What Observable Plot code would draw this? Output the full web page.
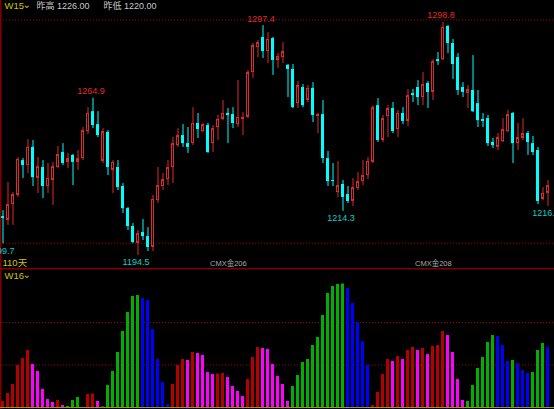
<!DOCTYPE html>
<html>
<head>
<meta charset="utf-8">
<script src="https://cdn.jsdelivr.net/npm/d3@7"></script>
<script src="https://cdn.jsdelivr.net/npm/@observablehq/plot@0.6"></script>
<style>
  html, body { margin: 0; padding: 0; background: #000; }
  #chart { width: 554px; height: 409px; overflow: hidden; background: #000; }
  #chart svg { display: block; }
</style>
</head>
<body>
<div id="chart"></div>
<script>
// Daily OHLC for the last 110 sessions (COMEX gold continuous, W15 window)
const open = [
  1211.9, 1210.2, 1217.3, 1221.4, 1237.0, 1234.8, 1242.9, 1229.0, 1233.9, 1225.4,
  1228.1, 1233.9, 1240.6, 1236.2, 1239.3, 1236.2, 1237.9, 1250.0, 1258.9, 1253.1,
  1236.6, 1249.6, 1232.6, 1233.9, 1225.4, 1215.5, 1207.5, 1199.9, 1204.8, 1203.0,
  1198.1, 1219.1, 1225.4, 1228.5, 1233.9, 1243.7, 1248.2, 1244.6, 1244.6, 1253.6,
  1250.0, 1252.7, 1244.6, 1251.8, 1255.4, 1258.1, 1257.6, 1253.1, 1255.4, 1256.3,
  1276.4, 1287.6, 1292.1, 1285.8, 1291.6, 1281.8, 1283.1, 1279.6, 1277.8, 1262.5,
  1269.7, 1263.9, 1269.3, 1256.7, 1257.6, 1237.9, 1228.1, 1222.7, 1226.3, 1221.8,
  1218.7, 1224.5, 1227.6, 1230.3, 1236.2, 1261.6, 1246.0, 1256.7, 1260.3, 1250.9,
  1258.1, 1254.5, 1267.0, 1269.7, 1265.2, 1271.5, 1267.5, 1282.2, 1282.2, 1297.0,
  1289.4, 1283.1, 1269.7, 1267.0, 1268.4, 1262.5, 1255.4, 1255.8, 1245.1, 1242.9,
  1245.5, 1250.0, 1258.1, 1244.6, 1246.9, 1249.1, 1244.6, 1241.5, 1219.6, 1222.3
];
const high = [
  1214.6, 1227.2, 1222.7, 1238.4, 1237.9, 1246.4, 1246.0, 1238.4, 1237.0, 1235.7,
  1236.2, 1243.3, 1244.6, 1240.2, 1239.7, 1241.5, 1251.8, 1260.7, 1264.9, 1258.9,
  1251.3, 1250.4, 1237.0, 1237.0, 1226.7, 1216.0, 1208.8, 1205.7, 1210.6, 1207.0,
  1221.4, 1233.9, 1231.2, 1237.0, 1247.3, 1251.3, 1253.1, 1251.8, 1260.7, 1258.1,
  1253.6, 1253.6, 1252.7, 1257.2, 1263.9, 1260.3, 1260.7, 1272.8, 1258.5, 1277.3,
  1289.4, 1290.7, 1297.4, 1294.3, 1292.1, 1284.9, 1289.8, 1280.0, 1280.0, 1272.4,
  1271.0, 1270.6, 1271.9, 1258.1, 1263.9, 1241.1, 1235.7, 1236.6, 1228.1, 1225.4,
  1229.0, 1231.7, 1237.0, 1238.4, 1261.6, 1264.8, 1257.2, 1261.6, 1263.0, 1259.4,
  1260.7, 1268.8, 1268.8, 1272.8, 1276.4, 1272.4, 1282.2, 1285.4, 1298.8, 1297.5,
  1291.2, 1284.9, 1271.9, 1270.6, 1284.0, 1268.4, 1258.1, 1257.2, 1246.9, 1249.1,
  1255.8, 1259.4, 1258.5, 1253.6, 1255.8, 1250.0, 1247.8, 1242.9, 1224.9, 1228.1
];
const low = [
  1199.7, 1208.0, 1208.0, 1220.5, 1229.0, 1231.2, 1225.4, 1222.3, 1220.0, 1222.3,
  1216.9, 1233.4, 1234.8, 1233.4, 1225.8, 1232.6, 1237.0, 1248.7, 1251.3, 1247.3,
  1235.7, 1230.3, 1222.3, 1223.6, 1213.3, 1205.7, 1199.9, 1194.5, 1201.2, 1196.3,
  1196.3, 1217.8, 1223.6, 1225.8, 1226.7, 1242.9, 1242.9, 1240.2, 1243.7, 1246.9,
  1249.6, 1240.2, 1240.6, 1246.0, 1254.9, 1244.6, 1251.3, 1251.8, 1248.2, 1255.8,
  1273.7, 1283.1, 1282.7, 1280.4, 1275.1, 1278.2, 1280.4, 1265.2, 1260.3, 1260.3,
  1260.7, 1263.0, 1254.0, 1249.1, 1235.7, 1225.4, 1225.4, 1220.5, 1214.3, 1217.8,
  1216.4, 1223.6, 1225.8, 1228.5, 1235.7, 1245.1, 1245.1, 1247.3, 1249.1, 1247.3,
  1253.1, 1252.2, 1263.0, 1261.6, 1261.6, 1260.3, 1263.9, 1279.6, 1281.8, 1284.9,
  1273.3, 1266.1, 1265.2, 1260.3, 1258.5, 1251.8, 1251.8, 1243.3, 1242.4, 1241.5,
  1245.1, 1249.6, 1235.7, 1241.5, 1246.0, 1239.3, 1239.3, 1217.3, 1219.1, 1216.5
];
const close = [
  1211.1, 1217.3, 1221.8, 1237.5, 1234.8, 1242.9, 1229.4, 1234.3, 1225.4, 1229.0,
  1234.3, 1239.7, 1235.7, 1237.9, 1236.2, 1237.9, 1250.4, 1258.1, 1252.7, 1248.2,
  1250.0, 1233.9, 1236.2, 1224.9, 1215.5, 1207.5, 1200.3, 1204.3, 1203.0, 1198.1,
  1219.6, 1225.8, 1228.5, 1233.9, 1244.6, 1248.2, 1244.6, 1242.9, 1253.6, 1250.9,
  1253.1, 1240.6, 1251.3, 1255.4, 1258.1, 1257.2, 1253.6, 1256.3, 1256.3, 1276.4,
  1288.5, 1289.8, 1285.8, 1291.2, 1281.8, 1283.6, 1285.8, 1277.8, 1260.7, 1270.6,
  1261.6, 1269.3, 1257.2, 1257.6, 1237.9, 1227.6, 1227.6, 1225.8, 1220.5, 1218.7,
  1224.9, 1227.6, 1230.3, 1236.6, 1260.7, 1246.0, 1255.8, 1260.3, 1250.0, 1258.1,
  1254.5, 1266.1, 1266.1, 1265.2, 1271.0, 1267.5, 1281.3, 1281.3, 1296.6, 1289.4,
  1280.0, 1268.4, 1267.5, 1268.8, 1258.9, 1254.9, 1254.5, 1244.6, 1243.7, 1247.3,
  1250.9, 1257.6, 1244.6, 1247.3, 1249.1, 1245.1, 1240.6, 1218.7, 1222.3, 1225.8
];

// W16 oscillator: positive side drawn red/magenta, negative side green/blue (bar height = magnitude)
const osc = [
     6,   14,   23,   42,   49,   57,   43,   36,   18,    8,
     5,    7,    2,   -1,   -7,  -10, -0.5,   13, 13.5,    6,
  -0.5,  -22,  -36,  -55,  -76,  -95, -111, -112, -109, -107,
   -78,  -48,  -25,   -3,   23,   42,   48,   47,   55,   54,
    52,   35,   33, 33.5,   34,   30,   21,   16,   11,   28,
    50,   60,   59,   58,   43,   31,   23,    6,  -21,  -32,
   -45,  -48,  -62,  -70,  -92, -114, -121, -123,-123.5, -119,
  -104,  -85,  -66,  -42,    2,   15,   33,   48,   46,   51,
    48,   57,   60,   57,   59,   53,   61,   62,   76,   72,
    55,   28,    7,   -6,  -22,  -39,  -50,  -65,  -72,  -71,
   -62,  -46,  -47,  -44,  -37,  -34,  -35,  -57,  -64,  -60
];
const oscGrid = [42.5, 85];

// Annotated swing points (session indices)
const peakIdx = [18, 52, 88];
const troughIdx = [0, 27, 68, 109];

// Contract roll markers
const rollIdx = [41, 82];
const rollNames = ["CMX金206", "CMX金208"];

const headerName = "W15";
const lowerName = "W16";
const prevHighLabel = "昨高 1226.00";
const prevLowLabel = "昨低 1220.00";
const dayCountLabel = "110天";
const priceGrid = [1200, 1300];

const RED = "#e02a2a";
const CYAN = "#00ffff";
const CYAN_TEXT = "#10cccc";
const YELLOW = "#cfc200";
const GRID = "#a00000";
const BORDER = "#800000";
const FONT = "Liberation Sans, 'Noto Sans CJK SC', sans-serif";

const N = open.length;
const bars = open.map((o, i) => ({i, o, h: high[i], l: low[i], c: close[i], up: close[i] >= o}));
const hist = osc.map((v, i) => {
  const prev = i > 0 ? osc[i - 1] : -Infinity;
  let color;
  if (v >= 0) color = v > prev ? "#b40000" : "#ff00ff";
  else color = v < prev ? "#00b000" : "#0000ff";
  return {i, v, color};
});

const xScale = {domain: [-0.5, N - 0.5], range: [0, 550], axis: null};
const half = 0.3;

const main = Plot.plot({
  width: 554,
  height: 268,
  margin: 0,
  style: {background: "#000", overflow: "visible"},
  x: xScale,
  y: {domain: [1188.7, 1308.65], axis: null},
  color: {type: "identity"},
  marks: [
    Plot.ruleY(priceGrid, {stroke: GRID, strokeDasharray: "1,2"}),
    Plot.frame({anchor: "left", stroke: BORDER, strokeWidth: 2}),
    Plot.ruleX(bars, {x: "i", y1: "l", y2: "h", stroke: d => d.up ? RED : CYAN, strokeWidth: 1}),
    Plot.rect(bars.filter(d => d.up), {
      x1: d => d.i - half, x2: d => d.i + half, y1: "o", y2: "c",
      fill: "#000", stroke: RED, strokeWidth: 1, inset: 0.5
    }),
    Plot.rect(bars.filter(d => !d.up), {
      x1: d => d.i - half, x2: d => d.i + half, y1: "c", y2: "o", fill: CYAN
    }),
    Plot.text(peakIdx, {
      x: d => d, y: d => high[d], text: d => high[d].toFixed(1),
      dx: -2, dy: -7, lineAnchor: "middle", fill: RED, fontSize: 9, fontFamily: FONT
    }),
    Plot.text(troughIdx, {
      x: d => d, y: d => low[d], text: d => low[d].toFixed(1),
      dx: -2, dy: 7, lineAnchor: "middle", fill: CYAN_TEXT, fontSize: 9, fontFamily: FONT
    }),
    Plot.text(rollIdx, {
      x: d => d, frameAnchor: "bottom", text: (d, k) => rollNames[k],
      textAnchor: "start", lineAnchor: "middle", dx: 2, dy: -4.5,
      fill: "#a8a8a8", fontSize: 7.5, fontFamily: FONT
    }),
    Plot.text([headerName], {frameAnchor: "top-left", dx: 4, dy: 5.3, lineAnchor: "middle", fill: YELLOW, fontSize: 9.5, fontFamily: FONT}),
    Plot.text(["⌄"], {frameAnchor: "top-left", dx: 22, dy: 4, lineAnchor: "middle", fill: YELLOW, fontSize: 10, fontFamily: "DejaVu Sans"}),
    Plot.text([prevHighLabel], {frameAnchor: "top-left", dx: 36, dy: 5.3, lineAnchor: "middle", fill: "#c8c8c8", fontSize: 9, fontFamily: FONT}),
    Plot.text([prevLowLabel], {frameAnchor: "top-left", dx: 103, dy: 5.3, lineAnchor: "middle", fill: "#c8c8c8", fontSize: 9, fontFamily: FONT}),
    Plot.text([dayCountLabel], {frameAnchor: "bottom-left", dx: 2, dy: -6, lineAnchor: "middle", fill: YELLOW, fontSize: 9.5, fontFamily: FONT})
  ]
});

const lower = Plot.plot({
  width: 554,
  height: 141,
  marginTop: 0,
  marginBottom: 2,
  marginLeft: 0,
  marginRight: 0,
  style: {background: "#000"},
  x: xScale,
  y: {domain: [0, 139], axis: null},
  color: {type: "identity"},
  marks: [
    Plot.frame({anchor: "top", stroke: BORDER, strokeWidth: 2}),
    Plot.frame({anchor: "left", stroke: BORDER, strokeWidth: 2}),
    Plot.ruleY(oscGrid, {stroke: GRID, strokeDasharray: "1,2"}),
    Plot.rectY(hist, {x1: d => d.i - half, x2: d => d.i + half, y: d => Math.abs(d.v), fill: "color"}),
    Plot.ruleY([0], {stroke: "#a89400"}),
    Plot.text([lowerName], {frameAnchor: "top-left", dx: 4, dy: 7, lineAnchor: "middle", fill: YELLOW, fontSize: 9.5, fontFamily: FONT}),
    Plot.text(["⌄"], {frameAnchor: "top-left", dx: 22, dy: 6, lineAnchor: "middle", fill: YELLOW, fontSize: 10, fontFamily: "DejaVu Sans"})
  ]
});

const chart = document.getElementById("chart");
chart.append(main, lower);
</script>
</body>
</html>
